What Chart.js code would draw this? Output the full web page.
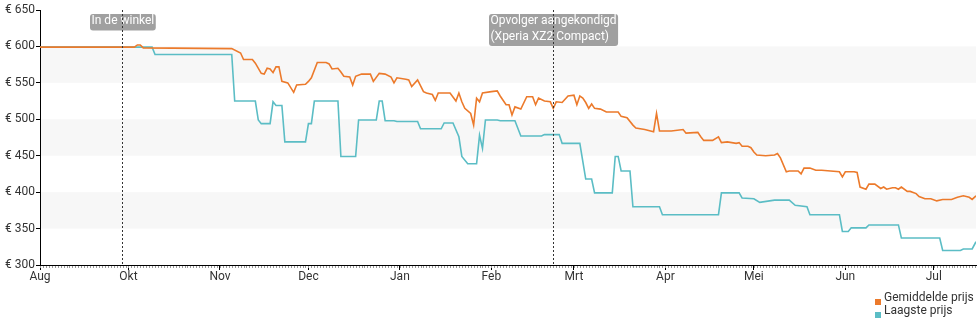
<!DOCTYPE html>
<html>
<head>
<meta charset="utf-8">
<title>Prijsverloop</title>
<script src="https://cdn.jsdelivr.net/npm/chart.js@4.4.1/dist/chart.umd.min.js"></script>
<style>
  html, body { margin: 0; padding: 0; background: #fff; }
  #wrap { position: relative; width: 980px; height: 325px; }
</style>
</head>
<body>
<div id="wrap"><canvas id="priceChart"></canvas></div>
<script>
// ── Data (x = days since start of the axis) ───────────────
const monthLabels = ['Aug', 'Okt', 'Nov', 'Dec', 'Jan', 'Feb', 'Mrt', 'Apr', 'Mei', 'Jun', 'Jul'];
const monthDays   = [0, 30, 61, 91, 122, 153, 181, 212, 242, 273, 303];
const lastDay = 317.3;

const priceTicks = [300, 350, 400, 450, 500, 550, 600, 650];

const avgDays = [
  0, 32, 33, 34, 35, 65, 68, 69, 72, 73, 75, 76, 77, 78, 79, 80, 81, 82, 84, 86,
  87, 90, 91, 92, 94, 97, 98, 99, 101, 102, 103, 105, 106, 107, 109, 112, 113, 115, 117, 119,
  120, 121, 124, 125, 126, 128, 130, 131, 133, 134, 135, 139, 141, 142, 143, 144, 146, 147, 148, 149,
  150, 153, 155, 156, 158, 159, 160, 161, 163, 165, 167, 168, 169, 171, 173, 174, 175, 177, 179, 181,
  182, 183, 184, 185, 186, 187, 188, 190, 192, 196, 197, 199, 201, 202, 205, 208, 209, 210, 214, 218,
  219, 223, 224, 225, 228, 230, 231, 233, 236, 237, 238, 240, 241, 242, 243, 246, 249, 250, 251, 253,
  254, 257, 258, 259, 261, 263, 265, 268, 271, 272, 273, 276, 277, 278, 280, 281, 283, 285, 286, 287,
  289, 290, 291, 292, 294, 295, 297, 298, 300, 302, 304, 306, 309, 311, 313, 315, 316, 317.3
];
const avgPrices = [
  599, 599, 602, 602, 598, 597, 591, 582, 582, 577, 563, 562, 570, 569, 564, 572, 572, 552, 550, 537,
  547, 548, 552, 557, 578, 578, 576, 569, 570, 565, 559, 558, 547, 559, 562, 562, 552, 563, 562, 558,
  550, 557, 555, 554, 545, 554, 538, 536, 534, 526, 536, 536, 525, 536, 524, 515, 508, 492, 529, 524,
  536, 538, 539, 532, 520, 520, 506, 517, 514, 531, 531, 520, 529, 525, 524, 515, 524, 523, 532, 533,
  520, 532, 529, 523, 515, 521, 515, 514, 510, 510, 504, 502, 492, 488, 486, 483, 508, 484, 484, 486,
  481, 482, 476, 471, 471, 476, 468, 469, 467, 468, 463, 463, 461, 455, 451, 450, 451, 453, 447, 428,
  429, 429, 425, 433, 433, 430, 430, 429, 428, 421, 428, 428, 427, 407, 404, 411, 411, 405, 407, 404,
  406, 406, 404, 407, 401, 401, 398, 394, 391, 391, 388, 390, 390, 393, 395, 393, 390, 395
];

const lowDays = [
  0, 38, 39, 65, 66, 73, 74, 75, 78, 79, 80, 82, 83, 90, 91, 92, 93, 101, 102, 107,
  108, 114, 115, 116, 117, 120, 121, 128, 129, 136, 137, 140, 142, 143, 145, 148, 149, 150, 151, 155,
  156, 161, 163, 170, 171, 176, 177, 183, 185, 187, 188, 194, 195, 196, 197, 200, 201, 210, 211, 230,
  231, 237, 238, 242, 244, 249, 254, 256, 260, 261, 271, 272, 274, 275, 280, 281, 291, 292, 305, 306,
  312, 313, 316, 317.3
];
const lowPrices = [
  599, 599, 589, 589, 525, 525, 499, 494, 494, 524, 519, 519, 469, 469, 494, 494, 525, 525, 449, 449,
  499, 499, 525, 525, 498, 498, 497, 497, 487, 487, 495, 495, 476, 449, 439, 439, 478, 460, 499, 499,
  498, 498, 477, 477, 479, 479, 467, 467, 418, 418, 399, 399, 449, 449, 429, 429, 380, 380, 369, 369,
  399, 399, 392, 391, 386, 389, 389, 382, 380, 369, 369, 346, 346, 351, 351, 355, 355, 337, 337, 320,
  320, 322, 322, 332
];

const eventDays   = [27.7, 174];
const eventLabels = [['In de winkel'], ['Opvolger aangekondigd', '(Xperia XZ2 Compact)']];

const ORANGE = '#ec7a2b';
const TEAL = '#5bbdc5';

Chart.defaults.font.family = 'Roboto, "Open Sans", sans-serif';
Chart.defaults.font.size = 12;
Chart.defaults.color = '#333';

// ── Plugins ───────────────────────────────────────────────
// light bands behind every other 50-euro interval
const bands = {
  id: 'bands',
  beforeDatasetsDraw(chart) {
    const { ctx, chartArea: a, scales: { y } } = chart;
    ctx.save();
    ctx.fillStyle = '#f7f7f7';
    for (let v = 350; v < 650; v += 100) {
      const top = y.getPixelForValue(v + 50);
      const bot = y.getPixelForValue(v);
      ctx.fillRect(a.left + 1, top, a.right - a.left - 1, bot - top);
    }
    ctx.restore();
  }
};

// small daily ticks under the x axis
const dayTicks = {
  id: 'dayTicks',
  afterDraw(chart) {
    const { ctx, chartArea: a, scales: { x } } = chart;
    ctx.save();
    ctx.fillStyle = '#999';
    for (let d = 0; d <= Math.floor(lastDay); d++) {
      const px = Math.round(x.getPixelForValue(d));
      ctx.fillRect(px, a.bottom + 1, 1, 2);
    }
    ctx.restore();
  }
};

// dotted event lines with their grey labels
const eventMarkers = {
  id: 'eventMarkers',
  afterDatasetsDraw(chart) {
    const { ctx, chartArea: a, scales: { x } } = chart;
    ctx.save();
    ctx.font = '12px Roboto';
    ctx.textBaseline = 'top';
    eventDays.forEach((d, i) => {
      const px = Math.round(x.getPixelForValue(d)) + 0.5;
      const lines = eventLabels[i];
      const w = Math.max(...lines.map(t => ctx.measureText(t).width)) + 3;
      const h = lines.length * 15.5 + 1;
      const bx = Math.round(px - w / 2), by = a.top + 4;
      ctx.fillStyle = 'rgba(150,150,150,0.9)';
      ctx.beginPath();
      ctx.roundRect(bx, by, w, h, 3);
      ctx.fill();
      ctx.fillStyle = '#fff';
      lines.forEach((t, j) => ctx.fillText(t, bx + 1.5, by + 1 + j * 15.5));

      ctx.strokeStyle = '#333';
      ctx.lineWidth = 1;
      ctx.setLineDash([2, 2]);
      ctx.beginPath();
      ctx.moveTo(px, a.top);
      ctx.lineTo(px, a.bottom);
      ctx.stroke();
      ctx.setLineDash([]);
    });
    ctx.restore();
  }
};

// stacked legend in the lower right corner
const cornerLegend = {
  id: 'cornerLegend',
  afterDraw(chart) {
    const { ctx } = chart;
    ctx.save();
    ctx.font = '12px Roboto';
    ctx.textBaseline = 'middle';
    chart.data.datasets.forEach((ds, i) => {
      const y = 298 + i * 13;
      ctx.fillStyle = ds.borderColor;
      ctx.fillRect(875, y + 1, 6, 6);
      ctx.fillStyle = '#333';
      ctx.fillText(ds.label, 884, y);
    });
    ctx.restore();
  }
};

// ── Chart ─────────────────────────────────────────────────
const toPoints = (xs, ys) => xs.map((d, i) => ({ x: d, y: ys[i] }));

new Chart(document.getElementById('priceChart'), {
  type: 'line',
  data: {
    datasets: [
      {
        label: 'Gemiddelde prijs',
        data: toPoints(avgDays, avgPrices),
        borderColor: ORANGE,
        borderWidth: 1.6,
        pointRadius: 0,
        tension: 0
      },
      {
        label: 'Laagste prijs',
        data: toPoints(lowDays, lowPrices),
        borderColor: TEAL,
        borderWidth: 1.6,
        pointRadius: 0,
        tension: 0
      }
    ]
  },
  options: {
    responsive: true,
    maintainAspectRatio: false,
    animation: false,
    layout: { padding: { top: 10, right: 4, left: 0, bottom: 0 } },
    plugins: {
      legend: { display: false },
      tooltip: { enabled: false }
    },
    scales: {
      x: {
        type: 'linear',
        min: 0,
        max: lastDay,
        afterBuildTicks: s => { s.ticks = monthDays.map(v => ({ value: v })); },
        afterFit: s => { s.height = 60; },
        ticks: {
          autoSkip: false,
          maxRotation: 0,
          padding: 0,
          color: '#333',
          callback: v => monthLabels[monthDays.indexOf(v)]
        },
        grid: { drawOnChartArea: false, color: '#000', tickLength: 5 },
        border: { color: '#000', width: 1 }
      },
      y: {
        min: 300,
        max: 650,
        afterBuildTicks: s => { s.ticks = priceTicks.map(v => ({ value: v })); },
        afterFit: s => { s.width = 40; },
        ticks: {
          padding: 1,
          color: '#333',
          callback: v => '€ ' + v
        },
        grid: { drawOnChartArea: false, color: '#000', tickLength: 4 },
        border: { color: '#000', width: 1 }
      }
    }
  },
  plugins: [bands, eventMarkers, dayTicks, cornerLegend]
});
</script>
</body>
</html>
